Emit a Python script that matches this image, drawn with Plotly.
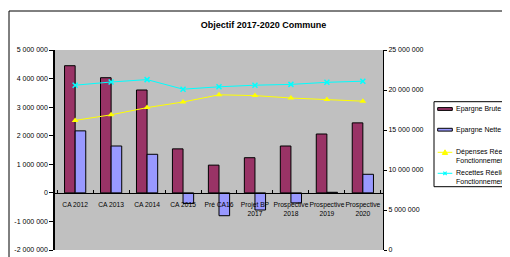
import plotly.graph_objects as go

categories = ["CA 2012", "CA 2013", "CA 2014", "CA 2015", "Pré CA16",
              "Projet BP<br>2017", "Prospective<br>2018", "Prospective<br>2019", "Prospective<br>2020"]
epargne_brute = [4450000, 4030000, 3600000, 1540000, 970000, 1230000, 1640000, 2060000, 2450000]
epargne_nette = [2170000, 1640000, 1350000, -370000, -800000, -600000, -350000, 20000, 650000]
depenses = [16200000, 16900000, 17800000, 18500000, 19400000, 19300000, 19000000, 18800000, 18600000]
recettes = [20600000, 21000000, 21300000, 20100000, 20400000, 20600000, 20700000, 20960000, 21100000]
series_names = ["Epargne Brute", "Epargne Nette",
                "Dépenses Réelles<br>Fonctionnement", "Recettes Réelles<br>Fonctionnement"]
series_colors = ["#993366", "#9999FF", "#FFFF00", "#00FFFF"]

left_ticks = [-2000000, -1000000, 0, 1000000, 2000000, 3000000, 4000000, 5000000]
right_ticks = [0, 5000000, 10000000, 15000000, 20000000, 25000000]

def fmt(v):
    s = f"{abs(v):,}".replace(",", " ")
    return ("-" if v < 0 else "") + s

FONT = "Liberation Sans, Arial, sans-serif"
W, H = 502, 249  # page body adds an 8px offset
# plot area in screen pixels
PL, PR, PT, PB = 55, 383, 50, 250

def px(X):
    return (X - PL) / (PR - PL)

def py(Y):
    return (PB - Y) / (PB - PT)

fig = go.Figure()
fig.add_trace(go.Bar(x=categories, y=epargne_brute, name=series_names[0],
                     marker=dict(color=series_colors[0], line=dict(color="black", width=1))))
fig.add_trace(go.Bar(x=categories, y=epargne_nette, name=series_names[1],
                     marker=dict(color=series_colors[1], line=dict(color="black", width=1))))
fig.add_trace(go.Scatter(x=categories, y=depenses, name=series_names[2],
                         yaxis="y2", mode="lines+markers",
                         line=dict(color=series_colors[2], width=1),
                         marker=dict(symbol="triangle-up", size=6, color=series_colors[2])))
fig.add_trace(go.Scatter(x=categories, y=recettes, name=series_names[3],
                         yaxis="y2", mode="lines+markers",
                         line=dict(color=series_colors[3], width=1),
                         marker=dict(symbol="x-thin-open", size=5, color=series_colors[3],
                                     line=dict(color=series_colors[3], width=1.5))))

fig.update_layout(
    width=W, height=H,
    margin=dict(l=PL - 8, r=W + 8 - PR, t=PT - 8, b=H + 8 - PB, autoexpand=False),
    paper_bgcolor="white", plot_bgcolor="#C0C0C0",
    font=dict(family=FONT, size=7, color="black"),
    barmode="group", bargap=0.41, bargroupgap=0,
    title=dict(text="<b>Objectif 2017-2020 Commune</b>", x=(263.5 - 8) / W, xanchor="center",
               y=1 - 17 / H, yanchor="middle", font=dict(size=9, family=FONT, color="black")),
    xaxis=dict(type="category", anchor="free", position=2/7, showline=True, linecolor="black",
               linewidth=1, ticks="inside", ticklen=3, tickcolor="black", tickson="boundaries",
               showgrid=False, zeroline=False, tickfont=dict(size=6.7), tickangle=0,
               ticklabelstandoff=5, automargin=False),
    yaxis=dict(range=[-2000000, 5000000], tickvals=left_ticks, ticktext=[fmt(v) for v in left_ticks],
               showline=True, linecolor="black", linewidth=1.5, ticks="outside", ticklen=4,
               tickcolor="black", showgrid=False, zeroline=False, tickfont=dict(size=7),
               automargin=False),
    yaxis2=dict(range=[0, 25000000], overlaying="y", side="right", tickvals=right_ticks,
                ticktext=[fmt(v) for v in right_ticks], showline=True, linecolor="black",
                linewidth=1, ticks="outside", ticklen=3, tickcolor="black", showgrid=False,
                zeroline=False, tickfont=dict(size=7), automargin=False),
    showlegend=False,
)
# outer chart frame
fig.add_shape(type="rect", xref="paper", yref="paper",
              x0=px(9), x1=px(530), y0=py(275), y1=py(11),
              line=dict(color="black", width=1), fillcolor="rgba(0,0,0,0)", layer="below")

# legend (drawn manually to match the Excel layout)
fig.add_shape(type="rect", xref="paper", yref="paper",
              x0=px(434), x1=px(540), y0=py(186.7), y1=py(101.7),
              line=dict(color="black", width=1), fillcolor="white")
for i, yc in enumerate([109, 129.7]):
    fig.add_shape(type="rect", xref="paper", yref="paper",
                  x0=px(437.7), x1=px(452.3), y0=py(yc + 1.4), y1=py(yc - 1.4),
                  line=dict(color="black", width=1), fillcolor=series_colors[i])
for i, yc in [(2, 152.3), (3, 173.3)]:
    fig.add_shape(type="line", xref="paper", yref="paper",
                  x0=px(437.7), x1=px(452.3), y0=py(yc), y1=py(yc),
                  line=dict(color=series_colors[i], width=1))
fig.add_shape(type="path", xref="paper", yref="paper",
              path=f"M {px(442.3)} {py(154.5)} L {px(447.7)} {py(154.5)} L {px(445)} {py(149.8)} Z",
              line=dict(color=series_colors[2], width=1), fillcolor=series_colors[2])
for a, b in [((443.3, 171.6), (446.7, 175.0)), ((443.3, 175.0), (446.7, 171.6))]:
    fig.add_shape(type="line", xref="paper", yref="paper",
                  x0=px(a[0]), y0=py(a[1]), x1=px(b[0]), y1=py(b[1]),
                  line=dict(color=series_colors[3], width=1.2))
for name, yc in zip(series_names, [109, 130, 156, 177]):
    fig.add_annotation(text=name, xref="paper", yref="paper", x=px(453.5), y=py(yc),
                       xanchor="left", yanchor="middle", align="left", showarrow=False,
                       font=dict(size=7, family=FONT, color="black"))

fig.write_html("out.html")
